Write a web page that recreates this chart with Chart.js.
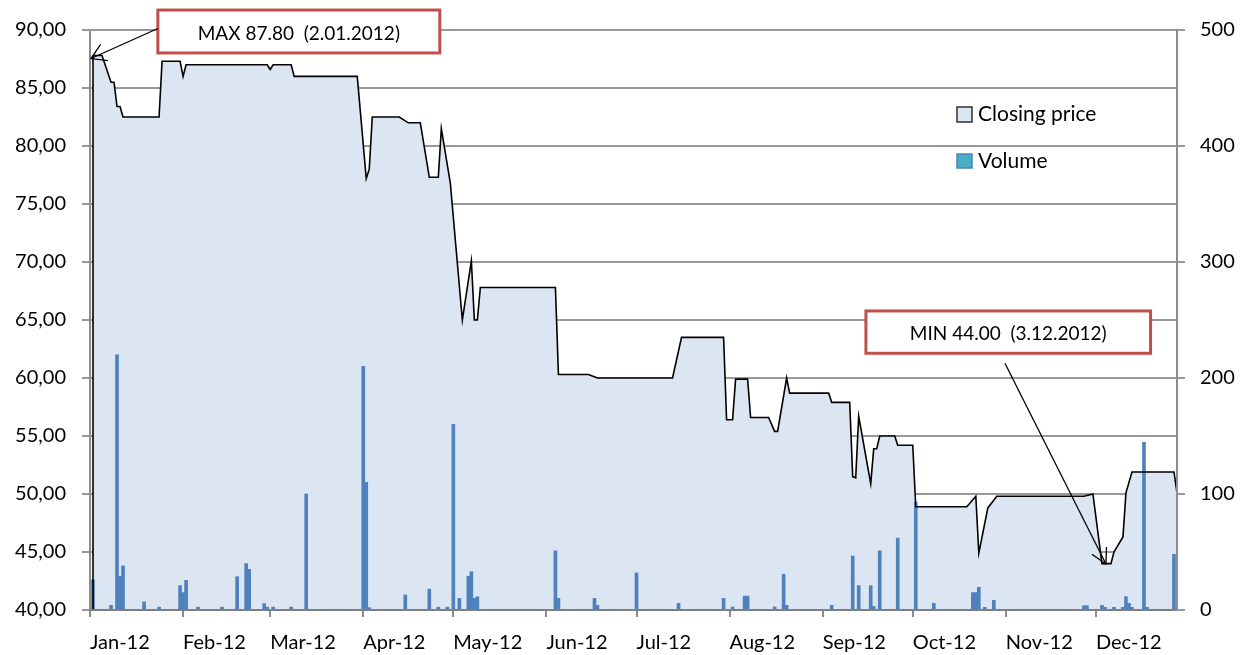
<!DOCTYPE html>
<html><head><meta charset="utf-8">
<script src="https://cdn.jsdelivr.net/npm/chart.js@4.4.1/dist/chart.umd.min.js"></script>
<style>html,body{margin:0;padding:0;background:#fff;}#wrap{width:1241px;height:655px;}</style>
</head><body><div id="wrap"><canvas id="c" width="1241" height="655"></canvas></div>
<script>
// Day of year 2012 (0 = 1 Jan)
const priceDays = [1,4,7,8,9,10,11,23,24,30,31,32,52,59,60,61,67,68,89,92,93,94,103,106,110,113,116,117,120,124,127,128,129,130,155,156,166,169,194,197,211,212,214,215,219,220,226,228,229,232,233,246,247,253,254,255,256,260,261,262,263,268,269,274,275,292,295,296,299,302,331,334,337,340,341,344,345,347,361,362];
const priceValues = [87.8,87.8,85.5,85.5,83.4,83.4,82.5,82.5,87.3,87.3,86.0,87.0,87.0,87.0,86.6,87.0,87.0,86.0,86.0,77.2,78.0,82.5,82.5,82.0,82.0,77.3,77.3,81.5,76.8,65.0,70.1,65.0,65.0,67.8,67.8,60.3,60.3,60.0,60.0,63.5,63.5,56.4,56.4,59.9,59.9,56.6,56.6,55.4,55.4,60.0,58.7,58.7,57.9,57.9,51.5,51.4,56.7,50.9,53.9,53.9,55.0,55.0,54.2,54.2,48.9,48.9,49.8,44.9,48.8,49.8,49.8,50.0,44.0,44.0,45.0,46.3,50.1,51.9,51.9,50.1];
const volumeDays = [1,7,9,10,11,18,23,30,31,32,36,44,49,52,53,58,59,61,67,72,91,92,93,105,113,116,119,121,123,126,127,128,129,155,156,168,169,182,196,211,214,218,219,228,231,232,247,254,256,260,261,263,269,275,281,294,295,296,298,301,331,332,337,338,341,344,345,346,347,351,352,361];
const volumeValues = [26,4,220,29,38,7,2.5,21,15,25.6,2.5,2.5,28.7,40,35,5.5,2.5,2.5,2.5,100,210,110,2,13,18,2.5,2.5,160,10,29,33,10,11.5,51,10,10,4,32,5.7,10,2.6,12,12,2.6,30.7,4,4,46.5,21,21,3,51,62,93,5.7,15,15,19.6,2.3,8.3,3.7,3.7,4,2.3,2.3,2.3,11.5,5.7,2.3,144.6,2.3,48];
const monthTickDays = [0,31,60,91,121,152,182,213,244,274,305,335];
const monthLabels = ['Jan-12','Feb-12','Mar-12','Apr-12','May-12','Jun-12','Jul-12','Aug-12','Sep-12','Oct-12','Nov-12','Dec-12'];
const priceTicks = [40,45,50,55,60,65,70,75,80,85,90];
const volumeTicks = [0,100,200,300,400,500];
const seriesNames = ['Closing price','Volume'];
const maxNote = {text:'MAX 87.80  (2.01.2012)', day:1, value:87.8};
const minNote = {text:'MIN 44.00  (3.12.2012)', day:337, value:44.0};

const FONT = 'Lato, "Open Sans", sans-serif';
const pricePts = priceDays.map((d,i)=>({x:d,y:priceValues[i]}));
const volPts = volumeDays.map((d,i)=>({x:d,y:volumeValues[i]}));

function arrow(ctx,x0,y0,x1,y1,L,w){
  ctx.beginPath();ctx.moveTo(x0,y0);ctx.lineTo(x1,y1);ctx.stroke();
  const a=Math.atan2(y0-y1,x0-x1);
  ctx.beginPath();
  ctx.moveTo(x1+L*Math.cos(a+w),y1+L*Math.sin(a+w));
  ctx.lineTo(x1,y1);
  ctx.lineTo(x1+L*Math.cos(a-w),y1+L*Math.sin(a-w));
  ctx.stroke();
}
function noteBox(ctx,xs,ys,b,text){
  const x0=xs.getPixelForValue(b.d0), x1=xs.getPixelForValue(b.d1);
  const y0=ys.getPixelForValue(b.vTop), y1=ys.getPixelForValue(b.vBot);
  ctx.fillStyle='#ffffff';ctx.fillRect(x0,y0,x1-x0,y1-y0);
  ctx.strokeStyle='#c0504d';ctx.lineWidth=3;ctx.strokeRect(x0,y0,x1-x0,y1-y0);
  ctx.fillStyle='#000';ctx.font='19px '+FONT;ctx.textAlign='center';ctx.textBaseline='middle';
  ctx.fillText(text,(x0+x1)/2,(y0+y1)/2+2);
}

const decor = {
  id:'decor',
  beforeDatasetsDraw(chart){
    // horizontal gridlines, drawn under the opaque area fill
    const ctx=chart.ctx, ys=chart.scales.y, ca=chart.chartArea;
    ctx.save();
    ctx.strokeStyle='#999999';ctx.lineWidth=2;
    priceTicks.forEach(v=>{
      const y=Math.round(ys.getPixelForValue(v));
      ctx.beginPath();ctx.moveTo(ca.left,y);ctx.lineTo(ca.right,y);ctx.stroke();
    });
    ctx.restore();
  },
  afterDatasetsDraw(chart){
    const ctx=chart.ctx, xs=chart.scales.x, ys=chart.scales.y, ca=chart.chartArea;
    ctx.save();
    ctx.strokeStyle='#000';ctx.lineWidth=1.6;
    const fx=xs.getPixelForValue(pricePts[0].x), fy=ys.getPixelForValue(pricePts[0].y);
    ctx.beginPath();ctx.moveTo(fx,fy);ctx.lineTo(fx,ca.bottom);ctx.stroke();
    ctx.restore();
  },
  afterDraw(chart){
    const ctx=chart.ctx, xs=chart.scales.x, ys=chart.scales.y, ca=chart.chartArea;
    ctx.save();
    const lx=ca.right-220, ly=ca.top+77;
    ctx.fillStyle='#dce6f2';ctx.fillRect(lx,ly,15,15);
    ctx.strokeStyle='#303030';ctx.lineWidth=1.5;ctx.strokeRect(lx,ly,15,15);
    ctx.fillStyle='#4bacc6';ctx.fillRect(lx,ly+47,15,14);
    ctx.strokeStyle='#4f81bd';ctx.lineWidth=1.5;ctx.strokeRect(lx,ly+47,15,14);
    ctx.fillStyle='#000';ctx.font='21px '+FONT;ctx.textAlign='left';ctx.textBaseline='middle';
    ctx.fillText(seriesNames[0],lx+21,ly+7);
    ctx.fillText(seriesNames[1],lx+21,ly+54);
    noteBox(ctx,xs,ys,{d0:22.6,d1:116.5,vTop:91.72,vBot:88.02},maxNote.text);
    ctx.strokeStyle='#000';ctx.lineWidth=1.3;
    arrow(ctx,xs.getPixelForValue(22.6),ys.getPixelForValue(90.13),xs.getPixelForValue(maxNote.day)-2,ys.getPixelForValue(maxNote.value)+3,17,0.55);
    noteBox(ctx,xs,ys,{d0:258.4,d1:353.2,vTop:65.78,vBot:62.13},minNote.text);
    ctx.strokeStyle='#000';ctx.lineWidth=1.3;
    arrow(ctx,xs.getPixelForValue(304.7),ys.getPixelForValue(61.27),xs.getPixelForValue(minNote.day)+4,ys.getPixelForValue(minNote.value)+0.4,17,0.5);
    ctx.restore();
  }
};

new Chart(document.getElementById('c'),{
  type:'line',
  data:{datasets:[
    {type:'line',label:seriesNames[0]+' fill',data:pricePts,yAxisID:'y',borderWidth:0,pointRadius:0,fill:'start',backgroundColor:'#dce6f2',tension:0,order:3},
    {type:'bar',label:seriesNames[1],data:volPts,yAxisID:'y2',backgroundColor:'#4f81bd',barThickness:3,order:2},
    {type:'line',label:seriesNames[0],data:pricePts,yAxisID:'y',borderColor:'#000',borderWidth:1.6,pointRadius:0,fill:false,tension:0,order:1}
  ]},
  options:{
    responsive:false,animation:false,devicePixelRatio:1,
    layout:{padding:{top:30,left:0,right:0,bottom:0}},
    plugins:{legend:{display:false},tooltip:{enabled:false}},
    scales:{
      x:{type:'linear',min:0,max:362,offset:false,
        afterBuildTicks:s=>{s.ticks=monthTickDays.map(v=>({value:v}));},
        afterFit:s=>{s.height=45;},
        ticks:{autoSkip:false,maxRotation:0,align:'start',padding:14,color:'#000',font:{family:FONT,size:20},
          callback:(v)=>{const i=monthTickDays.indexOf(v);return i>=0?monthLabels[i]:'';}},
        grid:{offset:false,drawOnChartArea:false,drawTicks:true,tickLength:7,color:'#8c8c8c',lineWidth:2},
        border:{display:true,color:'#7f7f7f',width:2,z:1}},
      y:{type:'linear',position:'left',min:40,max:90,
        afterBuildTicks:s=>{s.ticks=priceTicks.map(v=>({value:v}));},
        afterFit:s=>{s.width=90;},
        ticks:{padding:16,color:'#000',font:{family:FONT,size:20},callback:v=>v.toFixed(2).replace('.',',')},
        grid:{drawOnChartArea:false,color:'#999999',lineWidth:2,drawTicks:true,tickLength:8},
        border:{display:true,color:'#8c8c8c',width:2}},
      y2:{type:'linear',position:'right',min:0,max:500,
        afterBuildTicks:s=>{s.ticks=volumeTicks.map(v=>({value:v}));},
        afterFit:s=>{s.width=64;},
        ticks:{padding:15,color:'#000',font:{family:FONT,size:20}},
        grid:{drawOnChartArea:false,drawTicks:true,tickLength:8,color:'#999999',lineWidth:2},
        border:{display:true,color:'#8c8c8c',width:2,z:1}}
    }
  },
  plugins:[decor]
});
</script></body></html>
